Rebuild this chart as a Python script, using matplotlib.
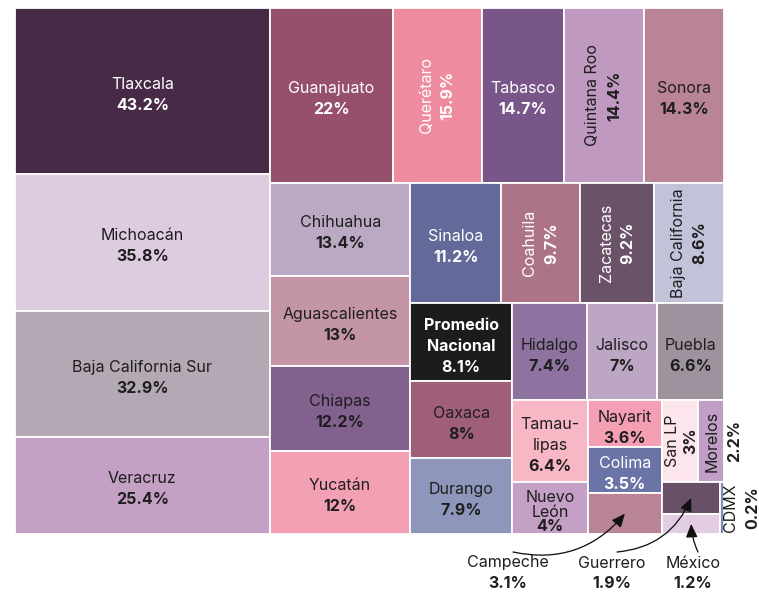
import matplotlib.pyplot as plt
from matplotlib.patches import Rectangle

plt.rcParams['font.family'] = ['Inter', 'DejaVu Sans']

# data, sorted from largest to smallest
estados = ["Tlaxcala", "Michoacán", "Baja California Sur", "Veracruz",
           "Guanajuato", "Querétaro", "Tabasco", "Quintana Roo", "Sonora",
           "Chihuahua", "Aguascalientes", "Chiapas", "Yucatán",
           "Sinaloa", "Coahuila", "Zacatecas", "Baja California",
           "Promedio\nNacional", "Oaxaca", "Durango",
           "Hidalgo", "Jalisco", "Puebla",
           "Tamau-\nlipas", "Nuevo\nLeón",
           "Nayarit", "Colima", "Campeche",
           "San LP", "Morelos",
           "Guerrero", "México", "CDMX"]
porcentajes = [43.2, 35.8, 32.9, 25.4,
               22, 15.9, 14.7, 14.4, 14.3,
               13.4, 13, 12.2, 12,
               11.2, 9.7, 9.2, 8.6,
               8.1, 8, 7.9,
               7.4, 7, 6.6,
               6.4, 4,
               3.6, 3.5, 3.1,
               3, 2.2,
               1.9, 1.2, 0.2]

# how many cells go in each strip of the treemap
grupos = [4, 5, 4, 4, 3, 3, 2, 3, 2, 2, 1]

colores = ["#462a46", "#ddcce0", "#b3a8b4", "#c4a0c4",
           "#96506c", "#ef8b9f", "#795689", "#c099c0", "#b98497",
           "#bba9c4", "#c395a6", "#83618f", "#f4a0b4",
           "#636a9a", "#ad7488", "#6a5268", "#c2c3d9",
           "#1c1c1c", "#a05f78", "#8e97bb",
           "#8e73a0", "#bca6c4", "#9f929f",
           "#f7b7c5", "#c49fc6",
           "#f49fb3", "#6b74a6", "#b88496",
           "#fde5ec", "#c09ec6",
           "#685069", "#e2cde2", "#7d8cb8"]

texto_blanco = {"Tlaxcala", "Guanajuato", "Querétaro", "Tabasco", "Sinaloa",
                "Coahuila", "Zacatecas", "Promedio\nNacional", "Colima"}
rotados = {"Querétaro", "Quintana Roo", "Coahuila", "Zacatecas",
           "Baja California", "San LP"}
abajo = ["Campeche", "Guerrero", "México"]
abajo_pos = [(493, 555), (597, 555), (678, 555)]
abajo_rad = [0.3, 0.3, -0.1]

OSCURO = "#1e1e1e"
W, H = 709, 526


def squarify_rows(vals, grupos, x0, y0, x1, y1):
    rects = []
    total = sum(vals)
    i = 0
    for n in grupos:
        chunk = vals[i:i + n]
        s = sum(chunk)
        dx, dy = x1 - x0, y1 - y0
        if dx < dy:
            h = dy * s / total
            x = x0
            for v in chunk:
                w = dx * v / s
                rects.append((x, y0, w, h))
                x += w
            y0 += h
        else:
            w = dx * s / total
            y = y0
            for v in chunk:
                h = dy * v / s
                rects.append((x0, y, w, h))
                y += h
            x0 += w
        total -= s
        i += n
    return rects


fig = plt.figure(figsize=(759 / 72, 593 / 72), dpi=72)
ax = fig.add_axes([15 / 759, (593 - 534) / 593, W / 759, H / 593])
ax.set_xlim(0, W)
ax.set_ylim(H, 0)
ax.axis('off')

rects = squarify_rows(porcentajes, grupos, 0, 0, W, H)
FS = 16

for nombre, val, col, (x, y, w, h) in zip(estados, porcentajes, colores, rects):
    ax.add_patch(Rectangle((x, y), w, h, facecolor=col, edgecolor='white', lw=1.8))
    cx, cy = x + w / 2, y + h / 2
    tc = 'white' if nombre in texto_blanco else OSCURO
    valor = f"{val:g}%"
    if nombre in abajo or nombre == "CDMX":
        continue
    if nombre == "Morelos":
        ax.annotate(nombre, (cx, cy), xytext=(1, 0), textcoords='offset points',
                    rotation=90, ha='center', va='center', fontsize=FS, color=tc)
        ax.annotate(valor, (W, cy), xytext=(11, 0), textcoords='offset points',
                    rotation=90, ha='center', va='center', fontsize=FS,
                    fontweight='bold', color=OSCURO, annotation_clip=False)
        continue
    if nombre in rotados:
        d1 = min(11, w / 5)
        ax.annotate(nombre, (cx, cy), xytext=(-d1, 0), textcoords='offset points',
                    rotation=90, ha='center', va='center', fontsize=FS, color=tc)
        ax.annotate(valor, (cx, cy), xytext=(11, 0), textcoords='offset points',
                    rotation=90, ha='center', va='center', fontsize=FS,
                    fontweight='bold', color=tc)
        continue
    lineas = nombre.split("\n") + [valor]
    n = len(lineas)
    lh = 21 if n < 3 else min(21, (h - 8) / n)
    peso_nombre = 'bold' if nombre.startswith("Promedio") else 'normal'
    for k, txt in enumerate(lineas):
        off = 4 + (k - (n - 1) / 2) * lh
        ax.annotate(txt, (cx, cy), xytext=(0, -off), textcoords='offset points',
                    ha='center', va='center', fontsize=FS, color=tc,
                    fontweight='bold' if k == n - 1 else peso_nombre)

# CDMX, label to the right of the sliver
x, y, w, h = rects[estados.index("CDMX")]
ax.annotate("CDMX", (W, y + h / 2), xytext=(7, 0), textcoords='offset points',
            rotation=90, ha='center', va='center', fontsize=FS, color=OSCURO,
            annotation_clip=False)
ax.annotate("0.2%", (W, y + h / 2), xytext=(29, 0), textcoords='offset points',
            rotation=90, ha='center', va='center', fontsize=FS, fontweight='bold',
            color=OSCURO, annotation_clip=False)

# labels below with arrows
for nombre, (lx, ly), rad in zip(abajo, abajo_pos, abajo_rad):
    i = estados.index(nombre)
    x, y, w, h = rects[i]
    ax.text(lx, ly, nombre, ha='center', va='center', fontsize=FS, color=OSCURO)
    ax.text(lx, ly + 21, f"{porcentajes[i]:g}%", ha='center', va='center',
            fontsize=FS, fontweight='bold', color=OSCURO)
    ax.annotate("", xy=(x + w / 2, y + h / 2), xytext=(lx + 5, ly - 11),
                arrowprops=dict(arrowstyle='-|>,head_length=0.8,head_width=0.35',
                                connectionstyle=f'arc3,rad={rad}', color='#111111',
                                lw=1.3, mutation_scale=14, shrinkA=0, shrinkB=0))

fig.savefig("out.png", dpi=72, facecolor='white')
